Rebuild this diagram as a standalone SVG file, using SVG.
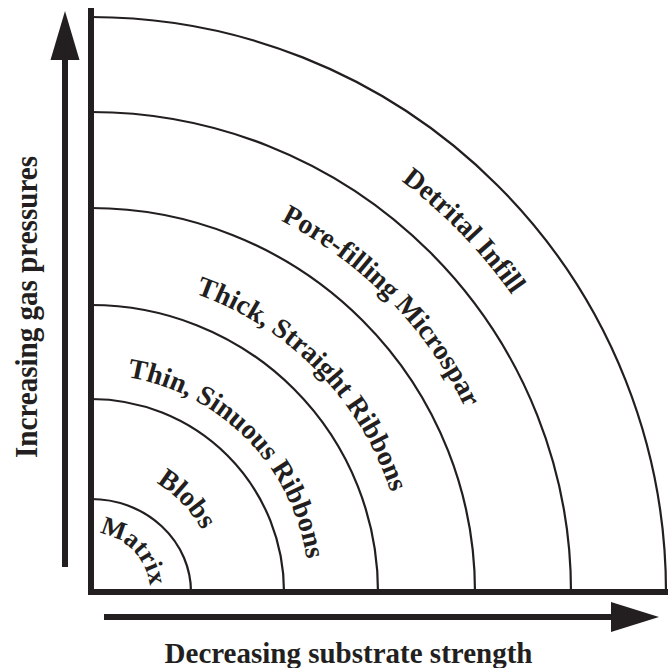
<svg xmlns="http://www.w3.org/2000/svg" width="669" height="668" viewBox="0 0 669 668">
<style>
.arc{fill:none;stroke:#231f20;stroke-width:2.2}
.lbl{font-family:"Liberation Serif","Times New Roman",serif;font-weight:bold;font-size:28px;fill:#231f20}
.ax{font-family:"Liberation Serif","Times New Roman",serif;font-weight:bold;font-size:29px;fill:#231f20}
.shaft{stroke:#231f20;stroke-width:6;fill:none}
.head{fill:#231f20}
</style>
<defs>
<path id="pMatrix" d="M91 533 A59 59 0 0 1 150 592"/>
<path id="pBlobs" d="M91 465 A127 127 0 0 1 218 592"/>
<path id="pThin" d="M91 374 A218 218 0 0 1 309 592"/>
<path id="pThick" d="M91 276 A316 316 0 0 1 407 592"/>
<path id="pPore" d="M91 175 A417 417 0 0 1 508 592"/>
<path id="pDetrital" d="M91 77 A515 515 0 0 1 606 592"/>
</defs>
<rect width="669" height="668" fill="#fff"/>
<g id="connectors">
<path d="M91 8 L91 592 L668 592" fill="none" stroke="#231f20" stroke-width="6" stroke-linejoin="miter"/>
<line class="shaft" x1="65" y1="567" x2="65" y2="58"/>
<polygon class="head" points="65,11 50.5,60 79.5,60"/>
<line class="shaft" x1="104" y1="617" x2="613" y2="617"/>
<polygon class="head" points="659,617 611,602 611,632"/>
</g>
<g id="matrix">
<path class="arc" d="M91 499 A100 93 0 0 1 191 592"/>
<text class="lbl" style="font-size:26px"><textPath href="#pMatrix" startOffset="51%" text-anchor="middle">Matrix</textPath></text>
</g>
<g id="blobs">
<path class="arc" d="M91 399 A193 193 0 0 1 284 592"/>
<text class="lbl"><textPath href="#pBlobs" startOffset="51%" text-anchor="middle">Blobs</textPath></text>
</g>
<g id="thin">
<path class="arc" d="M91 305 A287 287 0 0 1 378 592"/>
<text class="lbl"><textPath href="#pThin" startOffset="50.5%" text-anchor="middle">Thin, Sinuous Ribbons</textPath></text>
</g>
<g id="thick">
<path class="arc" d="M91 208 A384 384 0 0 1 475 592"/>
<text class="lbl"><textPath href="#pThick" startOffset="50.5%" text-anchor="middle">Thick, Straight Ribbons</textPath></text>
</g>
<g id="pore">
<path class="arc" d="M91 112 A480 480 0 0 1 571 592"/>
<text class="lbl"><textPath href="#pPore" startOffset="50.5%" text-anchor="middle">Pore-filling Microspar</textPath></text>
</g>
<g id="detrital">
<path class="arc" d="M91 17 A575 575 0 0 1 666 592"/>
<text class="lbl"><textPath href="#pDetrital" startOffset="51%" text-anchor="middle">Detrital Infill</textPath></text>
</g>
<g id="x-label">
<text class="ax" x="348.5" y="663" text-anchor="middle">Decreasing substrate strength</text>
</g>
<g id="y-label">
<text class="ax" style="font-size:31px" transform="translate(37 307) rotate(-90)" x="-151" textLength="302" lengthAdjust="spacingAndGlyphs">Increasing gas pressures</text>
</g>
</svg>
